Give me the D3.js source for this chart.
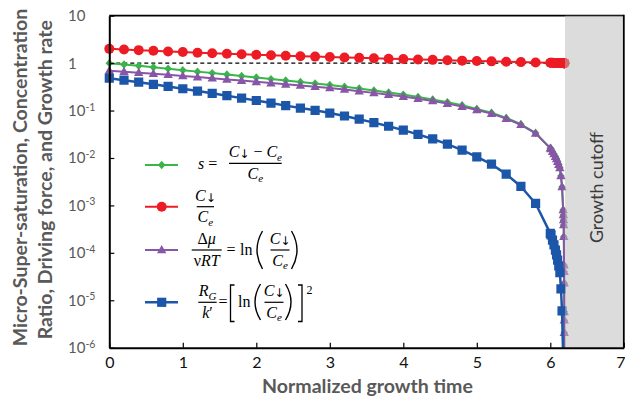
<!DOCTYPE html>
<html>
<head>
<meta charset="utf-8">
<script src="https://cdn.jsdelivr.net/npm/d3@7"></script>
<style>
  html, body { margin: 0; padding: 0; background: #fff; }
  svg { display: block; }
</style>
</head>
<body>
<svg id="chart" width="625" height="400"></svg>
<script>
// ---- data -------------------------------------------------------------
// Normalized growth time of each simulation step
const time = [
  0, 0.2, 0.4, 0.6, 0.8, 1.0, 1.2, 1.4, 1.6, 1.8, 2.0, 2.2, 2.4, 2.6, 2.8, 3.0,
  3.2, 3.4, 3.6, 3.8, 4.0, 4.2, 4.4, 4.6, 4.8, 5.0, 5.2, 5.4, 5.6, 5.8, 6.0,
  6.01, 6.03, 6.05, 6.07, 6.085, 6.1, 6.115, 6.13, 6.145, 6.16, 6.175, 6.178,
  6.18, 6.182, 6.184, 6.187, 6.188, 6.189, 6.19, 6.19, 6.19, 6.191, 6.192
];
// Concentration ratio C↓/Ce
const ratio = [
  1.999, 1.936, 1.877, 1.819, 1.764, 1.711, 1.662, 1.617, 1.574, 1.534, 1.497,
  1.461, 1.429, 1.400, 1.373, 1.347, 1.319, 1.292, 1.266, 1.241, 1.217, 1.194,
  1.172, 1.150, 1.129, 1.108, 1.090, 1.070, 1.051, 1.034, 1.016,
  1.0156, 1.0137, 1.0122, 1.0108, 1.0096, 1.0084, 1.0073, 1.0062, 1.0042, 1.0024,
  1.0008, 1.0006, 1.0005, 1.0004, 1.0002, 1.0001, 1.0, 1.0, 1.0, 1.0, 1.0, 1.0, 1.0
];
// Micro-super-saturation s
const superSat = [
  0.999, 0.936, 0.877, 0.819, 0.764, 0.711, 0.662, 0.617, 0.574, 0.534, 0.497,
  0.461, 0.429, 0.400, 0.373, 0.347, 0.319, 0.292, 0.266, 0.241, 0.217, 0.194,
  0.172, 0.150, 0.129, 0.108, 0.0899, 0.0699, 0.0514, 0.0337, 0.0161,
  0.01561, 0.01373, 0.01220, 0.01075, 0.00958, 0.00843, 0.00729, 0.00617, 0.00418,
  0.00244, 8.0e-4, 6.28e-4, 4.92e-4, 3.86e-4, 2.19e-4, 5.5e-5, 4.0e-5, 2.28e-5,
  5.7e-6, 3.8e-6, 2.07e-6, 5e-7, 1e-8
];
// Driving force Δμ/νRT
const drivingForce = [
  0.693, 0.661, 0.630, 0.598, 0.568, 0.537, 0.508, 0.481, 0.454, 0.428, 0.403,
  0.379, 0.357, 0.337, 0.317, 0.298, 0.277, 0.256, 0.236, 0.216, 0.197, 0.177,
  0.159, 0.140, 0.121, 0.103, 0.0861, 0.0676, 0.0501, 0.0331, 0.0160,
  0.01549, 0.01364, 0.01213, 0.01069, 0.00953, 0.00839, 0.00726, 0.00615, 0.00417,
  0.00244, 8.0e-4, 6.28e-4, 4.92e-4, 3.86e-4, 2.19e-4, 5.5e-5, 4.0e-5, 2.28e-5,
  5.7e-6, 3.8e-6, 2.07e-6, 5e-7, 1e-8
];
// Growth rate R_G/k'
const growthRate = [
  0.480, 0.437, 0.396, 0.358, 0.322, 0.288, 0.258, 0.231, 0.206, 0.183, 0.163,
  0.144, 0.127, 0.113, 0.101, 0.0885, 0.0767, 0.0658, 0.0557, 0.0467, 0.0386,
  0.0315, 0.0252, 0.0196, 0.0147, 0.0106, 0.00741, 0.00457, 0.00251, 0.00110, 0.000257,
  2.40e-4, 1.86e-4, 1.47e-4, 1.14e-4, 9.1e-5, 7.0e-5, 5.3e-5, 3.8e-5, 1.74e-5,
  5.95e-6, 6.4e-7, 3.9e-7, 2.4e-7, 1.5e-7, 4.8e-8, 3.0e-9, 1.6e-9, 5.2e-10,
  3.2e-11, 1.4e-11, 4.3e-12, 2.5e-13, 1e-16
];

const xTickValues = [0, 1, 2, 3, 4, 5, 6, 7];
const yTickValues = [1e-6, 1e-5, 1e-4, 1e-3, 1e-2, 1e-1, 1, 10];
const yTickLabels = [['10', '-6'], ['10', '-5'], ['10', '-4'], ['10', '-3'],
                     ['10', '-2'], ['10', '-1'], ['1', ''], ['10', '']];
const cutoffTime = 6.2;
const xTitle = 'Normalized growth time';
const yTitleLines = ['Micro-Super-saturation, Concentration',
                     'Ratio, Driving force, and Growth rate'];
const cutoffLabel = 'Growth cutoff';

// ---- setup ------------------------------------------------------------
const svg = d3.select('#chart');
const UI = 'Lato, "Open Sans", sans-serif';
const MATH = '"Liberation Serif", "DejaVu Serif", serif';

const x = d3.scaleLinear().domain([0, 7]).range([109.3, 623.8]);
const y = d3.scaleLog().domain([1e-6, 10]).range([347.7, 15.7]);
const [plotL, plotR] = x.range();
const [plotB, plotT] = y.range();

const COLORS = { green: '#39b54a', red: '#ed1c24', purple: '#8856a7', blue: '#1c56a8' };

const series = [
  { values: superSat,     color: COLORS.green,  marker: 'diamond',  width: 2 },
  { values: ratio,        color: COLORS.red,    marker: 'circle',   width: 2 },
  { values: drivingForce, color: COLORS.purple, marker: 'triangle', width: 2 },
  { values: growthRate,   color: COLORS.blue,   marker: 'square',   width: 2.5 }
];

function markerPath(type) {
  switch (type) {
    case 'diamond':  return 'M0,-4.2L3.8,0L0,4.2L-3.8,0Z';
    case 'triangle': return 'M0,-4.9L4.7,3.3L-4.7,3.3Z';
    case 'square':   return 'M-4.6,-4.6H4.6V4.6H-4.6Z';
    default:         return d3.symbol(d3.symbolCircle, Math.PI * 25)();
  }
}

// clip marks vertically to the plot area
svg.append('defs').append('clipPath').attr('id', 'plotClip')
  .append('rect').attr('x', 0).attr('y', plotT - 1)
  .attr('width', 625).attr('height', plotB - plotT + 1);

// top border (sits under the cutoff shading)
svg.append('line')
  .attr('x1', plotL).attr('x2', plotR).attr('y1', plotT).attr('y2', plotT)
  .attr('stroke', '#000').attr('stroke-width', 1.8);

const plot = svg.append('g').attr('clip-path', 'url(#plotClip)');

// reference line at ratio = 1
plot.append('line')
  .attr('x1', x(0)).attr('x2', x(cutoffTime)).attr('y1', y(1)).attr('y2', y(1))
  .attr('stroke', '#000').attr('stroke-width', 1.3).attr('stroke-dasharray', '4,3');

const line = d3.line().x((d, i) => x(time[i])).y(d => y(d));

series.forEach(s => {
  plot.append('path').datum(s.values)
    .attr('d', line).attr('fill', 'none')
    .attr('stroke', s.color).attr('stroke-width', s.width)
    .attr('stroke-linejoin', 'round');
  plot.append('g').selectAll('path').data(s.values).join('path')
    .attr('d', markerPath(s.marker))
    .attr('transform', (d, i) => `translate(${x(time[i])},${y(d)})`)
    .attr('fill', s.color);
});

// shaded region after growth cutoff
svg.append('rect')
  .attr('x', x(cutoffTime)).attr('y', plotT)
  .attr('width', plotR - 1 - x(cutoffTime)).attr('height', plotB - plotT)
  .attr('fill', 'rgb(188,188,188)').attr('fill-opacity', 0.52);

// right border
svg.append('line')
  .attr('x1', plotR).attr('x2', plotR).attr('y1', plotT - 0.9).attr('y2', plotB)
  .attr('stroke', '#000').attr('stroke-width', 1.8);

// ---- axes -------------------------------------------------------------
const xAxis = svg.append('g').attr('transform', `translate(0,${plotB})`)
  .call(d3.axisBottom(x).tickValues(xTickValues).tickSize(-5).tickSizeOuter(0)
        .tickFormat(d3.format('d')));
xAxis.select('.domain').attr('stroke', '#000').attr('stroke-width', 2);
xAxis.selectAll('.tick line').attr('stroke', '#000').attr('stroke-width', 1.2);
xAxis.selectAll('.tick text')
  .attr('y', 20.6).attr('dy', null)
  .attr('fill', '#111').style('font-family', UI).style('font-size', '16px');
// last label sits at the page edge: right-align it so it stays whole
xAxis.selectAll('.tick text').filter(d => d === 7)
  .attr('text-anchor', 'end').attr('x', 625 - plotR);

const yAxis = svg.append('g').attr('transform', `translate(${plotL},0)`)
  .call(d3.axisLeft(y).tickValues(yTickValues).tickSize(-5).tickSizeOuter(0)
        .tickFormat(''));
yAxis.select('.domain').attr('stroke', '#000').attr('stroke-width', 2);
yAxis.selectAll('.tick line').attr('stroke', '#000').attr('stroke-width', 1.2);

// y tick labels with superscript exponents
yTickValues.forEach((v, i) => {
  const [base, exp] = yTickLabels[i];
  const t = svg.append('text')
    .attr('x', 68).attr('y', y(v) + 5.5)
    .attr('fill', '#595959')
    .style('font-family', UI).style('font-size', '15px')
    .text(base);
  if (exp) {
    t.append('tspan').attr('dy', -5.5).style('font-size', '10.5px').text(exp);
  }
});

// fit helper: scale a text's font so it spans the given length
function fitText(sel, base, target) {
  sel.style('font-size', base + 'px');
  const len = sel.node().getComputedTextLength();
  const size = base * target / len;
  sel.style('font-size', size + 'px');
  return size;
}

// axis titles
const xt = svg.append('text')
  .attr('x', 367.5).attr('y', 393.3).attr('text-anchor', 'middle')
  .attr('fill', '#595959').style('font-family', UI).style('font-weight', 'bold')
  .text(xTitle);
fitText(xt, 17, 211);

const yt1 = svg.append('text')
  .attr('transform', 'translate(26.7,177.5) rotate(-90)')
  .attr('text-anchor', 'middle').attr('fill', '#595959')
  .style('font-family', UI).style('font-weight', 'bold')
  .text(yTitleLines[0]);
const ySize = fitText(yt1, 17, 338);
svg.append('text')
  .attr('transform', 'translate(51.7,179.7) rotate(-90)')
  .attr('text-anchor', 'middle').attr('fill', '#595959')
  .style('font-family', UI).style('font-weight', 'bold')
  .style('font-size', ySize + 'px')
  .text(yTitleLines[1]);

// cutoff label
const ct = svg.append('text')
  .attr('transform', 'translate(603,187.6) rotate(-90)')
  .attr('text-anchor', 'middle').attr('fill', '#3a3a3a')
  .style('font-family', UI)
  .text(cutoffLabel);
fitText(ct, 17, 111);

// ---- legend -----------------------------------------------------------
const legend = svg.append('g');

function mathText(parent, px, py, parts, anchor) {
  const t = parent.append('text')
    .attr('x', px).attr('y', py).attr('text-anchor', anchor || 'start')
    .attr('fill', '#000')
    .style('font-family', MATH).style('font-size', '16px');
  let shift = 0;
  parts.forEach(p => {
    const s = t.append('tspan').text(p.t);
    const target = p.sub ? (p.shift != null ? p.shift : 3.5) : p.sup ? -7 : 0;
    if (target !== shift) { s.attr('dy', target - shift); shift = target; }
    if (p.i) s.style('font-style', 'italic');
    if (p.sub || p.sup) s.style('font-size', p.size || '11px');
    if (p.family) s.style('font-family', p.family);
  });
  return t;
}

function fraction(parent, x1, x2, barY, num, den) {
  const cx = (x1 + x2) / 2;
  parent.append('line').attr('x1', x1).attr('x2', x2)
    .attr('y1', barY).attr('y2', barY)
    .attr('stroke', '#000').attr('stroke-width', 1.2);
  mathText(parent, cx, barY - 6, num, 'middle');
  mathText(parent, cx, barY + 15.5, den, 'middle');
}

function paren(parent, x0, y1, y2, side) {
  const w = 5.5, mid = (y1 + y2) / 2;
  const d = side === 'left'
    ? `M${x0 + w},${y1}Q${x0 - w},${mid} ${x0 + w},${y2}`
    : `M${x0},${y1}Q${x0 + 2 * w},${mid} ${x0},${y2}`;
  parent.append('path').attr('d', d).attr('fill', 'none')
    .attr('stroke', '#000').attr('stroke-width', 1.4);
}

function bracket(parent, x0, y1, y2, side) {
  const d = side === 'left'
    ? `M${x0 + 4},${y1}H${x0}V${y2}H${x0 + 4}`
    : `M${x0},${y1}H${x0 + 4}V${y2}H${x0}`;
  parent.append('path').attr('d', d).attr('fill', 'none')
    .attr('stroke', '#000').attr('stroke-width', 1.3);
}

const C_DOWN = [{ t: 'C', i: true },
                { t: '↓', sub: true, size: '12px', shift: 1, family: '"DejaVu Sans", sans-serif' }];
const C_E = [{ t: 'C', i: true }, { t: 'e', i: true, sub: true }];

const legendRows = [165, 206.7, 250, 302.3];
legendRows.forEach((ly, i) => {
  const s = series[i];
  legend.append('line').attr('x1', 145).attr('x2', 178).attr('y1', ly).attr('y2', ly)
    .attr('stroke', s.color).attr('stroke-width', s.width);
  legend.append('path').attr('d', markerPath(s.marker))
    .attr('transform', `translate(161.7,${ly})`).attr('fill', s.color);
});

// s = (C↓ − Ce)/Ce
mathText(legend, 198, 168.5, [{ t: 's', i: true }, { t: ' =' }]);
fraction(legend, 229, 281.7, 163.3,
  [...C_DOWN, { t: ' − ' }, ...C_E], C_E);

// C↓/Ce
fraction(legend, 196.7, 214, 206.7, C_DOWN, C_E);

// Δμ/νRT = ln(C↓/Ce)
fraction(legend, 191.7, 221.7, 250,
  [{ t: 'Δ' }, { t: 'μ', i: true }],
  [{ t: 'ν' }, { t: 'RT', i: true }]);
mathText(legend, 231, 254.5, [{ t: '=' }], 'middle');
mathText(legend, 240, 254.5, [{ t: 'ln' }]);
paren(legend, 257, 231, 269, 'left');
fraction(legend, 270.5, 289.5, 250, C_DOWN, C_E);
paren(legend, 291.5, 231, 269, 'right');

// R_G/k' = [ln(C↓/Ce)]^2
fraction(legend, 198.3, 216.7, 302.3,
  [{ t: 'R', i: true }, { t: 'G', i: true, sub: true }],
  [{ t: 'k', i: true }, { t: '′' }]);
mathText(legend, 223, 306.5, [{ t: '=' }], 'middle');
bracket(legend, 230.5, 285, 321.5, 'left');
mathText(legend, 238, 306.5, [{ t: 'ln' }]);
paren(legend, 255, 284, 320, 'left');
fraction(legend, 264.5, 283.5, 302.3, C_DOWN, C_E);
paren(legend, 285.5, 284, 320, 'right');
bracket(legend, 298, 285, 321.5, 'right');
mathText(legend, 306.5, 294, [{ t: '2' }]).style('font-size', '12px');
</script>
</body>
</html>
